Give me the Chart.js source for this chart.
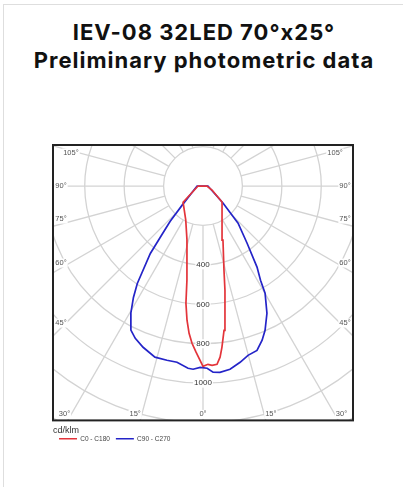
<!DOCTYPE html>
<html>
<head>
<meta charset="utf-8">
<script src="https://cdn.jsdelivr.net/npm/chart.js"></script>
<style>
  html, body { margin: 0; padding: 0; background: #fff; }
  body { width: 403px; height: 487px; overflow: hidden; position: relative; }
  .card { position: absolute; left: 3px; top: 4px; width: 440px; height: 520px; border: 1px solid #dedede; }
  .ttl { position: absolute; left: 0; width: 408px; margin: 0; text-align: center; font-family: Inter, "Open Sans", sans-serif;
         font-weight: 700; font-size: 22px; line-height: 20px; letter-spacing: 1px; color: #111; }
  #t1 { top: 22px; }
  #t2 { top: 50px; }
  #wrap { position: absolute; left: 50px; top: 142px; width: 312px; height: 310px; }
</style>
</head>
<body>
<div class="card"></div>
<div class="ttl" id="t1">IEV-08 32LED 70°x25°</div>
<div class="ttl" id="t2">Preliminary photometric data</div>
<div id="wrap"><canvas id="polar"></canvas></div>
<script>
// intensity rings (cd/klm) and which of them carry a label
const rings = [200, 400, 600, 800, 1000, 1200, 1400];
const ringLabels = [400, 600, 800, 1000];
// angle ticks, 0 = straight down, negative = left half
const angleTicks = [-105, -90, -75, -60, -45, -30, -15, 0, 15, 30, 45, 60, 75, 90, 105];

// C0 - C180 (red), left to right (180 = pole)
const redAngles = [-180, -90, -51, -27, -16.5, -9.7, -8.3, -6.8, -5.4, -4.0, -2.4, -1.0, 0, 1.6, 2.9, 4.5, 5.7, 6.7, 8.3, 9.8, 11.9, 14, 20.3, 31.5, 50, 66, 90, 180];
const redValues = [0, 25, 130, 193, 286, 484, 600, 685, 750, 799, 843, 883, 914, 904, 910, 906, 872, 823, 739, 655, 540, 440, 292, 185, 126, 50, 20, 0];

// C90 - C270 (blue)
const blueAngles = [-180, -90, -48, -43, -40, -38, -34, -32, -29.6, -26.6, -24, -20.4, -15.7, -11.7, -8.4, -4.7, -3.1, -0.9, 1.3, 3.1, 5.2, 8.4, 11.9, 14.9, 18.2, 21, 23.3, 26.7, 30.1, 31.4, 33.7, 37.7, 43.4, 49.6, 90, 180];
const blueValues = [0, 30, 137, 244, 331, 434, 596, 666, 741, 817, 845, 872, 901, 902, 903, 927, 930, 919, 924, 945, 948, 939, 913, 888, 877, 837, 796, 722, 628, 560, 494, 365, 259, 133, 25, 0];

function toXY(angles, values) {
  return angles.map((a, i) => {
    const r = a * Math.PI / 180;
    return { x: values[i] * Math.sin(r), y: -values[i] * Math.cos(r) };
  });
}

function labelBox(ctx, text, x, y, color) {
  const w = ctx.measureText(text).width;
  ctx.fillStyle = '#fff';
  ctx.fillRect(x - w / 2 - 1, y - 4.5, w + 2, 9);
  ctx.fillStyle = color;
  ctx.fillText(text, x, y);
}

const polarGrid = {
  id: 'polarGrid',
  beforeDatasetsDraw(chart) {
    const { ctx, chartArea: a, scales: { x, y } } = chart;
    const cx = x.getPixelForValue(0), cy = y.getPixelForValue(0);
    const k = x.getPixelForValue(1000) - cx; // px per 1000 cd
    ctx.save();
    ctx.beginPath();
    ctx.rect(a.left, a.top, a.width, a.height);
    ctx.clip();
    ctx.strokeStyle = '#d3d3d3';
    ctx.lineWidth = 1.3;
    rings.forEach(v => {
      ctx.beginPath();
      ctx.arc(cx, cy, v * k / 1000, 0, Math.PI * 2);
      ctx.stroke();
    });
    const r0 = rings[0] * k / 1000, r1 = 3000 * k / 1000;
    for (let d = 0; d < 360; d += 15) {
      const t = d * Math.PI / 180;
      ctx.beginPath();
      ctx.moveTo(cx + r0 * Math.sin(t), cy + r0 * Math.cos(t));
      ctx.lineTo(cx + r1 * Math.sin(t), cy + r1 * Math.cos(t));
      ctx.stroke();
    }
    ctx.textAlign = 'center';
    ctx.textBaseline = 'middle';
    ctx.font = '8px "Liberation Sans", Arial, sans-serif';
    ringLabels.forEach(v => labelBox(ctx, String(v), cx, cy + v * k / 1000, '#333'));
    // angle labels: where each ray meets a rectangle just inside the frame,
    // nudged to the outer side of the ray
    ctx.font = '7.5px "Liberation Sans", Arial, sans-serif';
    const L = a.left + 8, R = a.right - 8, B = a.bottom - 6, T = a.top + 8;
    angleTicks.forEach(d => {
      const t = d * Math.PI / 180;
      const dx = Math.sin(t), dy = Math.cos(t);
      let s = Infinity, side = '';
      if (dx < -1e-6 && (L - cx) / dx < s) { s = (L - cx) / dx; side = 'v'; }
      if (dx > 1e-6 && (R - cx) / dx < s) { s = (R - cx) / dx; side = 'v'; }
      if (dy > 1e-6 && (B - cy) / dy < s) { s = (B - cy) / dy; side = 'h'; }
      if (dy < -1e-6 && (T - cy) / dy < s) { s = (T - cy) / dy; side = 'h'; }
      const text = Math.abs(d) + '°';
      let px = cx + s * dx, py = cy + s * dy;
      const m = Math.abs(d);
      if (side === 'v') py += m < 90 ? -5 : (m > 90 ? 5 : 0);
      else px += Math.sign(d) * (ctx.measureText(text).width / 2 + 1);
      labelBox(ctx, text, px, py, '#555');
    });
    ctx.restore();
  },
  afterDraw(chart) {
    const { ctx, chartArea: a } = chart;
    ctx.save();
    ctx.strokeStyle = '#222';
    ctx.lineWidth = 2;
    ctx.strokeRect(a.left, a.top, a.width, a.height);
    ctx.restore();
  }
};

new Chart(document.getElementById('polar'), {
  type: 'scatter',
  data: {
    datasets: [
      { label: 'C0 - C180', data: toXY(redAngles, redValues), showLine: true, borderColor: '#e3343a',
        backgroundColor: '#e3343a', borderWidth: 1.7, pointRadius: 0, tension: 0 },
      { label: 'C90 - C270', data: toXY(blueAngles, blueValues), showLine: true, borderColor: '#2424c8',
        backgroundColor: '#2424c8', borderWidth: 1.7, pointRadius: 0, tension: 0 }
    ]
  },
  options: {
    responsive: true,
    maintainAspectRatio: false,
    animation: false,
    layout: { autoPadding: false, padding: { left: 3, top: 3, right: 9, bottom: 0 } },
    scales: {
      x: { type: 'linear', display: false, min: -761, max: 761 },
      y: { type: 'linear', display: false, min: -1188, max: 208 }
    },
    plugins: {
      tooltip: { enabled: false },
      legend: {
        position: 'bottom',
        align: 'start',
        title: { display: true, text: 'cd/klm', position: 'start', padding: { top: 5.5, bottom: 0 },
                 color: '#333', font: { family: '"Liberation Sans", Arial, sans-serif', size: 9, lineHeight: 0.4 } },
        labels: { usePointStyle: true, pointStyle: 'line', pointStyleWidth: 18, boxHeight: 6.5, padding: 6,
                  color: '#444', font: { family: '"Liberation Sans", Arial, sans-serif', size: 6.5 } }
      }
    }
  },
  plugins: [polarGrid]
});
</script>
</body>
</html>
